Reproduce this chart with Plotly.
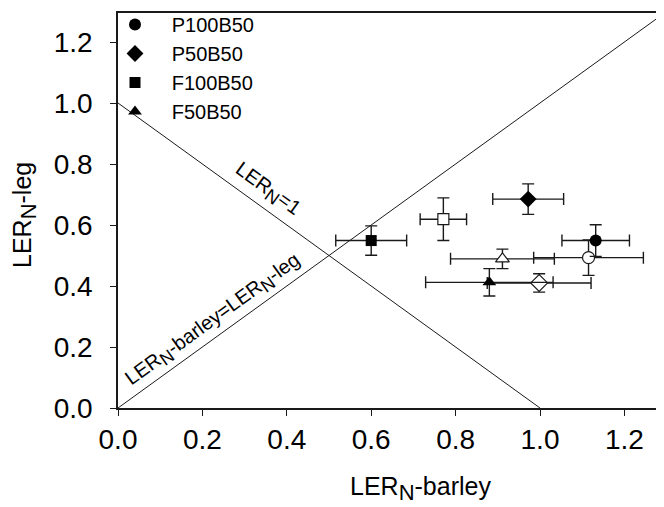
import plotly.graph_objects as go

# ---- data ----
groups = ["P100B50", "P50B50", "F100B50", "F50B50"]
symbols = ["circle", "diamond", "square", "triangle-up"]
sizes = [12, 13, 11, 12]

# filled markers
filled_x = [1.132, 0.972, 0.600, 0.880]
filled_y = [0.549, 0.685, 0.549, 0.412]
filled_xerr = [0.080, 0.084, 0.084, 0.151]
filled_yerr = [0.052, 0.050, 0.048, 0.045]

# open markers
open_x = [1.115, 0.998, 0.771, 0.911]
open_y = [0.493, 0.410, 0.619, 0.489]
open_xerr = [0.130, 0.123, 0.055, 0.123]
open_yerr = [0.058, 0.030, 0.070, 0.032]

# reference lines
diag_x = [0, 1.3]
diag_y = [0, 1.3]
ler1_x = [0, 1.0]
ler1_y = [1.0, 0]

x_ticks = [0.0, 0.2, 0.4, 0.6, 0.8, 1.0, 1.2]
y_ticks = [0.0, 0.2, 0.4, 0.6, 0.8, 1.0, 1.2]

FONT = "Liberation Sans, Arial, sans-serif"
INK = "#1a1a1a"

OFF = 8                     # page body margin offset
W, H = 664 - OFF, 507 - OFF
L, R, T, B = 110, 0, 5, 99
XMAX = (W - L - R) / 422.0
YMAX = (H - T - B) / 305.0


def subN(size):
    return f'<sub><span style="font-size:{size}px">N</span></sub>'


def px2paper(sx, sy):
    fx, fy = sx - OFF, sy - OFF
    return (fx - L) / (W - L - R), (H - B - fy) / (H - T - B)


fig = go.Figure()

fig.add_trace(go.Scatter(x=diag_x, y=diag_y, mode="lines",
                         line=dict(color=INK, width=1), showlegend=False,
                         hoverinfo="skip"))
fig.add_trace(go.Scatter(x=ler1_x, y=ler1_y, mode="lines",
                         line=dict(color=INK, width=1), showlegend=False,
                         hoverinfo="skip"))

for i, g in enumerate(groups):
    fig.add_trace(go.Scatter(
        x=[open_x[i]], y=[open_y[i]], mode="markers",
        marker=dict(symbol=symbols[i], size=sizes[i], color="white",
                    line=dict(color=INK, width=1.2)),
        error_x=dict(type="data", array=[open_xerr[i]], color=INK,
                     thickness=1.4, width=6),
        error_y=dict(type="data", array=[open_yerr[i]], color=INK,
                     thickness=1.4, width=6),
        showlegend=False, name=g + " open"))

for i, g in enumerate(groups):
    fig.add_trace(go.Scatter(
        x=[filled_x[i]], y=[filled_y[i]], mode="markers",
        marker=dict(symbol=symbols[i], size=sizes[i], color="black",
                    line=dict(color="black", width=0)),
        error_x=dict(type="data", array=[filled_xerr[i]], color=INK,
                     thickness=1.4, width=6),
        error_y=dict(type="data", array=[filled_yerr[i]], color=INK,
                     thickness=1.4, width=6),
        name="\u00a0\u00a0\u00a0" + g))


annotations = []
ax_, ay_ = px2paper(420, 488)
annotations.append(dict(text="LER" + subN(22) + "-barley", x=ax_, y=ay_,
                        xref="paper", yref="paper", showarrow=False,
                        xanchor="center", yanchor="middle",
                        font=dict(family=FONT, size=25, color="black")))
ax_, ay_ = px2paper(24, 215)
annotations.append(dict(text="LER" + subN(22) + "-leg", x=ax_, y=ay_,
                        xref="paper", yref="paper", showarrow=False,
                        xanchor="center", yanchor="middle", textangle=-90,
                        font=dict(family=FONT, size=25, color="black")))
annotations.append(dict(text="LER" + subN(18) + "=1", x=0.355, y=0.715,
                        xref="x", yref="y", showarrow=False,
                        xanchor="center", yanchor="middle", textangle=35.9,
                        font=dict(family=FONT, size=20, color="black")))
annotations.append(dict(text="LER" + subN(18) + "-barley=LER" + subN(18) + "-leg",
                        x=0.226, y=0.290,
                        xref="x", yref="y", showarrow=False,
                        xanchor="center", yanchor="middle", textangle=-35.9,
                        font=dict(family=FONT, size=20, color="black")))

lx, ly = px2paper(115, 5)
fig.update_layout(
    width=W, height=H,
    margin=dict(l=L, r=R, t=T, b=B, pad=0, autoexpand=False),
    paper_bgcolor="white", plot_bgcolor="white",
    font=dict(family=FONT, color="black"),
    showlegend=True,
    legend=dict(x=lx, y=ly, xanchor="left", yanchor="top",
                bgcolor="rgba(0,0,0,0)", borderwidth=0, itemwidth=30,
                font=dict(family=FONT, size=20, color="black"),
                tracegroupgap=0),
    annotations=annotations,
    xaxis=dict(range=[0, XMAX], tickvals=x_ticks, automargin=False,
               ticktext=[f"{v:.1f}" for v in x_ticks],
               showgrid=False, zeroline=False,
               showline=True, linecolor=INK, linewidth=1.5, mirror=True,
               ticks="outside", ticklen=6, tickwidth=1, tickcolor=INK,
               tickfont=dict(family=FONT, size=28, color="black")),
    yaxis=dict(range=[0, YMAX], tickvals=y_ticks, automargin=False,
               ticktext=[f"{v:.1f}" for v in y_ticks],
               showgrid=False, zeroline=False,
               showline=True, linecolor=INK, linewidth=1.5,
               ticks="outside", ticklen=6, tickwidth=1, tickcolor=INK,
               ticklabelstandoff=12,
               tickfont=dict(family=FONT, size=28, color="black")),
)

fig.write_html("out.html")
